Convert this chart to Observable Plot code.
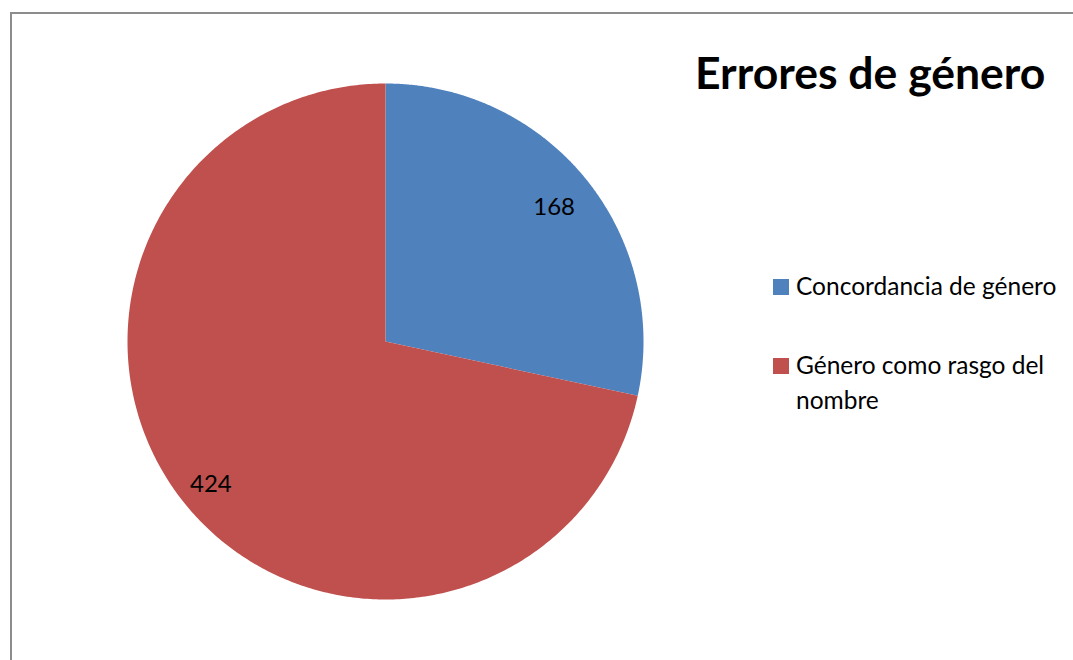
<!DOCTYPE html>
<html>
<head>
<meta charset="utf-8">
<script src="https://cdn.jsdelivr.net/npm/d3@7"></script>
<script src="https://cdn.jsdelivr.net/npm/@observablehq/plot@0.6"></script>
<style>
  html, body { margin: 0; padding: 0; background: #fff; }
  #wrap { position: relative; width: 1073px; height: 660px; overflow: hidden; font-family: Lato, "Open Sans", sans-serif; }
  #frame { position: absolute; left: 10px; top: 12px; width: 1100px; height: 700px; border-left: 2px solid #8c8c8c; border-top: 2px solid #8c8c8c; box-sizing: border-box; }
  #chart { position: absolute; left: 0; top: 0; }
  #title { position: absolute; left: 695px; top: 45px; font-size: 44.5px; font-weight: 700; color: #000; white-space: nowrap; }
  .leg { position: absolute; left: 773px; font-size: 24.5px; color: #000; line-height: 35px; }
  .sw { position: absolute; left: 0; top: 11px; width: 16px; height: 16px; }
  .lt { position: absolute; left: 23px; top: 0; white-space: nowrap; }
</style>
</head>
<body>
<div id="wrap">
  <div id="frame"></div>
  <div id="chart"></div>
  <div id="title"></div>
  <div id="legend"></div>
</div>
<script>
const categories = ["Concordancia de género", "Género como rasgo del nombre"];
const values = [168, 424];
const colors = ["#4F81BD", "#C0504D"];
const legendLines = [["Concordancia de género"], ["Género como rasgo del", "nombre"]];
const titleText = "Errores de género";

const rows = categories.map((c, i) => ({cat: c, value: values[i]}));
const arcs = d3.pie().sort(null).value(d => d.value)(rows);

const pts = [];
const steps = 400;
arcs.forEach(a => {
  pts.push({cat: a.data.cat, x: 0, y: 0});
  for (let k = 0; k <= steps; k++) {
    const t = a.startAngle + (a.endAngle - a.startAngle) * k / steps;
    pts.push({cat: a.data.cat, x: Math.sin(t), y: Math.cos(t)});
  }
  pts.push({cat: a.data.cat, x: 0, y: 0});
});
const labelPts = arcs.map((a, i) => {
  const m = (a.startAngle + a.endAngle) / 2;
  const r = i === 0 ? 0.84 : 0.87;
  return {label: String(a.data.value), x: r * Math.sin(m), y: r * Math.cos(m)};
});

const plot = Plot.plot({
  width: 1073,
  height: 660,
  marginLeft: 127,
  marginRight: 430,
  marginTop: 83,
  marginBottom: 61,
  x: {domain: [-1, 1], axis: null},
  y: {domain: [-1, 1], axis: null},
  color: {domain: categories, range: colors},
  style: {background: "transparent", fontFamily: "Lato, 'Open Sans', sans-serif"},
  marks: [
    Plot.line(pts, {x: "x", y: "y", z: "cat", fill: "cat", stroke: "none", curve: "linear"}),
    Plot.text(labelPts, {x: "x", y: "y", text: "label", fontSize: 24, dy: 2, fill: "#000"})
  ]
});
document.getElementById("chart").appendChild(plot);

document.getElementById("title").textContent = titleText;
const legend = document.getElementById("legend");
const tops = [268, 347];
categories.forEach((c, i) => {
  const d = document.createElement("div");
  d.className = "leg";
  d.style.top = tops[i] + "px";
  const sw = document.createElement("div");
  sw.className = "sw";
  sw.style.background = colors[i];
  const t = document.createElement("div");
  t.className = "lt";
  t.innerHTML = legendLines[i].join("<br>");
  d.appendChild(sw); d.appendChild(t);
  legend.appendChild(d);
});
</script>
</body>
</html>
